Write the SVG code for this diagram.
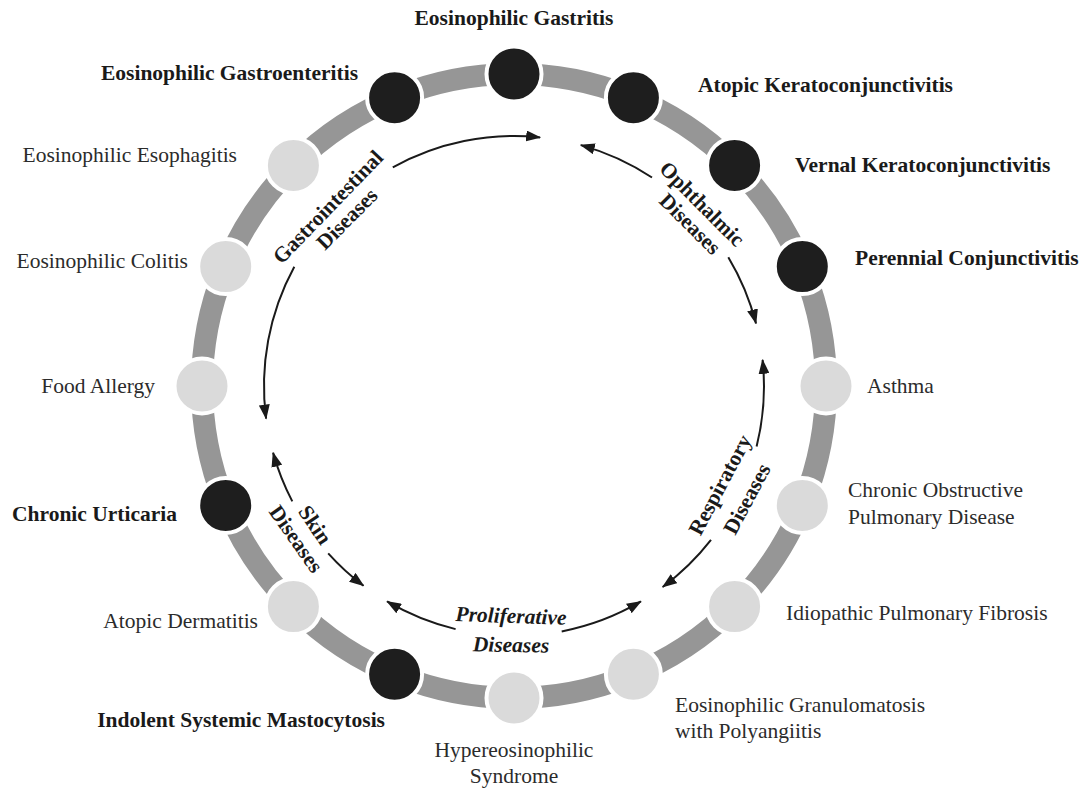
<svg xmlns="http://www.w3.org/2000/svg" width="1087" height="789" viewBox="0 0 1087 789">
<style>
  text { font-family: "Liberation Serif", "Times New Roman", serif; font-size: 21.5px; fill: #2b2b2b; }
  .b { font-weight: bold; fill: #1a1a1a; }
  .e { text-anchor: end; }
  .m { text-anchor: middle; }
  .dark { fill: #1e1e1e; stroke: #ffffff; stroke-width: 4; }
  .light { fill: #dadada; stroke: #ffffff; stroke-width: 4; }
  .arr { fill: none; stroke: #1a1a1a; stroke-width: 2; marker-end: url(#ah); }
  .cat { font-weight: bold; fill: #1a1a1a; text-anchor: middle; }
</style>
<defs>
  <marker id="ah" markerUnits="userSpaceOnUse" markerWidth="15" markerHeight="11" refX="14" refY="5.5" orient="auto">
    <path d="M0,0 L15,5.5 L0,11 Z" fill="#1a1a1a"/>
  </marker>
</defs>
<rect width="1087" height="789" fill="#ffffff"/>
<circle id="ring" cx="514" cy="386" r="312" fill="none" stroke="#969696" stroke-width="22"/>

<g id="n-gastritis"><circle class="dark" cx="514" cy="74" r="27.5"/><text class="b m" x="514" y="25">Eosinophilic Gastritis</text></g>
<g id="n-akc"><circle class="dark" cx="633.4" cy="97.7" r="27.5"/><text class="b" x="698" y="92">Atopic Keratoconjunctivitis</text></g>
<g id="n-vkc"><circle class="dark" cx="734.6" cy="165.4" r="27.5"/><text class="b" x="795" y="172">Vernal Keratoconjunctivitis</text></g>
<g id="n-pc"><circle class="dark" cx="802.3" cy="266.6" r="27.5"/><text class="b" x="855" y="265">Perennial Conjunctivitis</text></g>
<g id="n-asthma"><circle class="light" cx="826" cy="386" r="27.5"/><text x="867" y="393">Asthma</text></g>
<g id="n-copd"><circle class="light" cx="802.3" cy="505.4" r="27.5"/><text x="848" y="497">Chronic Obstructive</text><text x="848" y="524">Pulmonary Disease</text></g>
<g id="n-ipf"><circle class="light" cx="734.6" cy="606.6" r="27.5"/><text x="786" y="620">Idiopathic Pulmonary Fibrosis</text></g>
<g id="n-egpa"><circle class="light" cx="633.4" cy="674.3" r="27.5"/><text x="675" y="712">Eosinophilic Granulomatosis</text><text x="675" y="738">with Polyangiitis</text></g>
<g id="n-hes"><circle class="light" cx="514" cy="698" r="27.5"/><text class="m" x="514" y="757">Hypereosinophilic</text><text class="m" x="514" y="783">Syndrome</text></g>
<g id="n-ism"><circle class="dark" cx="394.6" cy="674.3" r="27.5"/><text class="b e" x="385" y="727">Indolent Systemic Mastocytosis</text></g>
<g id="n-ad"><circle class="light" cx="293.4" cy="606.6" r="27.5"/><text class="e" x="258" y="628">Atopic Dermatitis</text></g>
<g id="n-cu"><circle class="dark" cx="225.7" cy="505.4" r="27.5"/><text class="b e" x="177" y="521">Chronic Urticaria</text></g>
<g id="n-fa"><circle class="light" cx="202" cy="386" r="27.5"/><text class="e" x="155" y="393">Food Allergy</text></g>
<g id="n-colitis"><circle class="light" cx="225.7" cy="266.6" r="27.5"/><text class="e" x="188" y="268">Eosinophilic Colitis</text></g>
<g id="n-esoph"><circle class="light" cx="293.4" cy="165.4" r="27.5"/><text class="e" x="237" y="162">Eosinophilic Esophagitis</text></g>
<g id="n-gastroent"><circle class="dark" cx="394.6" cy="97.7" r="27.5"/><text class="b e" x="358" y="80">Eosinophilic Gastroenteritis</text></g>

<g id="connectors">
  <path class="arr" d="M392.8,167.4 A250,250 0 0 1 540.1,137.4"/>
  <path class="arr" d="M294.3,266.7 A250,250 0 0 0 266.1,418.6"/>
  <path class="arr" d="M652,177.5 A250,250 0 0 0 580.8,145.1"/>
  <path class="arr" d="M728.3,257.2 A250,250 0 0 1 756,323.4"/>
  <path class="arr" d="M756.6,446.5 A250,250 0 0 0 762.6,359.9"/>
  <path class="arr" d="M711,539.9 A250,250 0 0 1 662.7,587"/>
  <path class="arr" d="M292.3,501.4 A250,250 0 0 1 273.1,452.8"/>
  <path class="arr" d="M328.2,553.3 A250,250 0 0 0 363.5,585.7"/>
  <path class="arr" d="M455.6,629.1 A250,250 0 0 1 387.1,601.4"/>
  <path class="arr" d="M561.7,631.4 A250,250 0 0 0 640.9,601.4"/>
</g>

<g id="c-gi">
  <text class="cat" transform="translate(328,207) rotate(-46)" y="7">Gastrointestinal</text>
  <text class="cat" transform="translate(347,219) rotate(-45)" y="7">Diseases</text>
</g>
<g id="c-oph">
  <text class="cat" transform="translate(702,204) rotate(45)" y="7">Ophthalmic</text>
  <text class="cat" transform="translate(690,224) rotate(45)" y="7">Diseases</text>
</g>
<g id="c-resp">
  <text class="cat" transform="translate(720,485) rotate(-62)" y="7">Respiratory</text>
  <text class="cat" transform="translate(747,499) rotate(-62)" y="7">Diseases</text>
</g>
<g id="c-skin">
  <text class="cat" transform="translate(315,525) rotate(56)" y="7">Skin</text>
  <text class="cat" transform="translate(296,539) rotate(55)" y="7">Diseases</text>
</g>
<g id="c-prolif">
  <text class="cat" font-style="italic" transform="translate(511,616) rotate(2)" y="7">Proliferative</text>
  <text class="cat" font-style="italic" transform="translate(511,645) rotate(1)" y="7">Diseases</text>
</g>
</svg>
